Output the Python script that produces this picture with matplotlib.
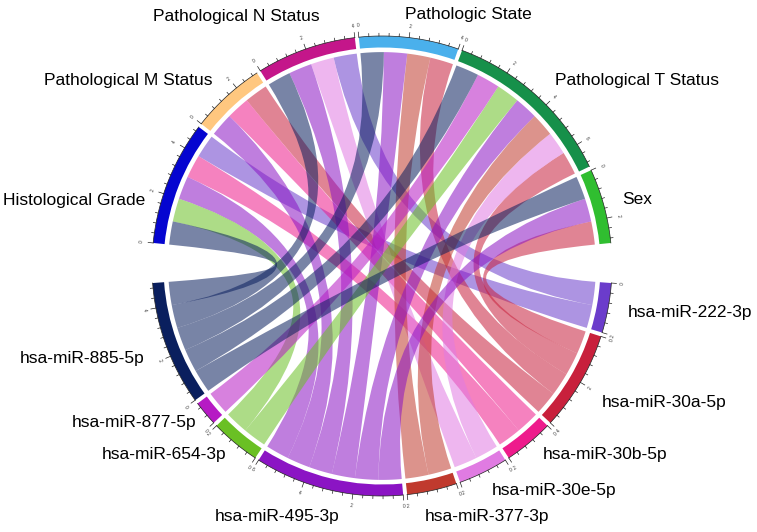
import numpy as np
import matplotlib.pyplot as plt
from matplotlib.path import Path
from matplotlib.patches import PathPatch, Wedge

plt.rcParams['font.family'] = ['Liberation Sans', 'DejaVu Sans']

# sectors, clockwise from the left gap
features = ["Histological Grade", "Pathological M Status", "Pathological N Status",
            "Pathologic State", "Pathological T Status", "Sex"]
mirnas = ["hsa-miR-222-3p", "hsa-miR-30a-5p", "hsa-miR-30b-5p", "hsa-miR-30e-5p",
          "hsa-miR-377-3p", "hsa-miR-495-3p", "hsa-miR-654-3p", "hsa-miR-877-5p",
          "hsa-miR-885-5p"]

feature_colors = ["#0505D0", "#FFC77F", "#C4168A", "#4AB0EC", "#16904A", "#30BE30"]
mirna_colors = ["#6B3CCB", "#C8203C", "#EE1B8C", "#E07BE2", "#C03A2E",
                "#8B14C4", "#6AC024", "#B61AC4", "#0A1F5E"]

# 1 = feature (row) linked to miRNA (column)
links = [
    [1, 0, 1, 0, 0, 1, 1, 0, 1],
    [0, 1, 1, 0, 0, 1, 0, 0, 0],
    [1, 0, 0, 1, 0, 1, 0, 0, 1],
    [0, 1, 0, 0, 1, 1, 0, 0, 1],
    [0, 1, 0, 1, 1, 1, 1, 1, 1],
    [0, 1, 0, 0, 0, 1, 0, 0, 1],
]

# where the sector names go, in pixels: x, y, alignment
label_pos = [
    (145, 200, 'right'), (212, 80, 'right'), (320, 16, 'right'),
    (405, 15, 'left'), (555, 80, 'left'), (622, 200, 'left'),
    (628, 313, 'left'), (602, 403, 'left'), (543, 455, 'left'),
    (492, 490, 'left'), (425, 517, 'left'), (340, 516, 'right'),
    (226, 454, 'right'), (196, 422, 'right'), (145, 358, 'right'),
]

W, H = 757, 532
CX, CY, R = 382, 266, 230   # circle centre / radius in pixels

fig = plt.figure(figsize=(W / 100, H / 100), dpi=100)
ax = fig.add_axes([0, 0, 1, 1])
ax.set_xlim(-CX / R, (W - CX) / R)
ax.set_ylim(-(H - CY) / R, CY / R)
ax.axis('off')

mat = np.array(links)
sectors = features + mirnas
colors = feature_colors + mirna_colors
sizes = list(mat.sum(axis=1)) + list(mat.sum(axis=0))
nf = len(features)

small_gap, big_gap = 1.0, 10.0
unit = (360 - 2 * big_gap - small_gap * (len(sectors) - 2)) / sum(sizes)

# start angle of each sector (degrees, going clockwise)
start = []
a = 90 + (sum(sizes[:nf]) * unit + small_gap * (nf - 1)) / 2
for i in range(len(sectors)):
    start.append(a)
    a -= sizes[i] * unit
    a -= big_gap if i in (nf - 1, len(sectors) - 1) else small_gap

# slot of each link inside its sector
slot = {}
for i in range(len(sectors)):
    if i < nf:
        partners = [nf + j for j in range(len(mirnas)) if mat[i, j]]
    else:
        partners = [f for f in range(nf) if mat[f, i - nf]]
    for k, p in enumerate(sorted(partners, reverse=True)):
        slot[(i, p)] = (start[i] - k * unit, start[i] - (k + 1) * unit)

r_link = 0.93


def arc(a, b, r=r_link, n=30):
    t = np.radians(np.linspace(a, b, n))
    return list(zip(r * np.cos(t), r * np.sin(t)))


# chords
for f in range(nf):
    for j in range(len(mirnas)):
        if not mat[f, j]:
            continue
        m = nf + j
        a1, b1 = slot[(f, m)]
        a2, b2 = slot[(m, f)]
        verts = arc(a1, b1)
        codes = [Path.MOVETO] + [Path.LINETO] * (len(verts) - 1)
        verts += [(0, 0), arc(a2, a2, n=1)[0]]
        codes += [Path.CURVE3, Path.CURVE3]
        seg = arc(a2, b2)[1:]
        verts += seg
        codes += [Path.LINETO] * len(seg)
        verts += [(0, 0), arc(a1, a1, n=1)[0], (0, 0)]
        codes += [Path.CURVE3, Path.CURVE3, Path.CLOSEPOLY]
        ax.add_patch(PathPatch(Path(verts, codes), facecolor=mirna_colors[j],
                               alpha=0.55, lw=0))

# outer track, axis and labels
for i, name in enumerate(sectors):
    s = start[i]
    e = s - sizes[i] * unit
    ax.add_patch(Wedge((0, 0), 1.0, e, s, width=0.05, facecolor=colors[i], edgecolor='none'))
    xs, ys = zip(*arc(s, e, r=1.0))
    ax.plot(xs, ys, color='#222222', lw=0.5)
    for v in np.arange(0, sizes[i] + 1e-6, 0.4):
        deg = s - v * unit
        t = np.radians(deg)
        major = abs(v / 2 - round(v / 2)) < 1e-6
        L = 0.022 if major else 0.012
        ax.plot([np.cos(t), (1 + L) * np.cos(t)], [np.sin(t), (1 + L) * np.sin(t)],
                color='#222222', lw=0.5)
        if major:
            rot = deg - 90 if np.sin(t) > 0 else deg + 90
            ax.text(1.05 * np.cos(t), 1.05 * np.sin(t), str(int(round(v))),
                    fontsize=3.5, rotation=rot, ha='center', va='center', color='#333333')
    x, y, ha = label_pos[i]
    ax.text((x - CX) / R, (CY - y) / R, name, fontsize=12.5, ha=ha, va='center')

fig.savefig('out.png', dpi=100)
